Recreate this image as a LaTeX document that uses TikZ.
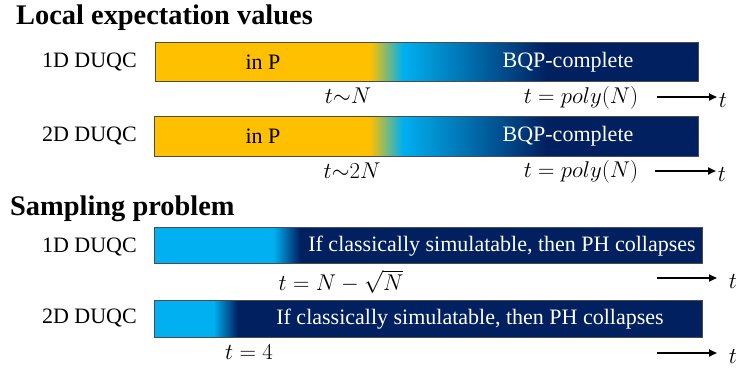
\documentclass[tikz,border=0pt]{standalone}
\usepackage{graphicx}
\usepackage{fontspec}
\setmainfont{Liberation Serif}
\usetikzlibrary{arrows.meta}

\definecolor{pyellow}{HTML}{FFC000}
\definecolor{pcyan}{HTML}{00B0F0}
\definecolor{pnavy}{HTML}{002060}

% bars: path box is mapped onto 25bp..75bp
\pgfdeclarehorizontalshading{localexp}{100bp}{color(0bp)=(pyellow); color(44.8bp)=(pyellow);
  color(47.8bp)=(pcyan); color(61.1bp)=(pnavy); color(100bp)=(pnavy)}
\pgfdeclarehorizontalshading{sampone}{100bp}{color(0bp)=(pcyan); color(35.9bp)=(pcyan);
  color(38.3bp)=(pnavy); color(100bp)=(pnavy)}
\pgfdeclarehorizontalshading{samptwo}{100bp}{color(0bp)=(pcyan); color(30.4bp)=(pcyan);
  color(32.6bp)=(pnavy); color(100bp)=(pnavy)}
% math labels, cm math only comes in fixed sizes
\newcommand{\tmath}[1]{\scalebox{1.1}{$#1$}}

\begin{document}
\begin{tikzpicture}[x=1pt,y=-1pt,
 heading/.style={anchor=base west,inner sep=0pt,font=\fontsize{28.4}{30}\selectfont\bfseries},
 rowname/.style={anchor=east,inner sep=0pt,font=\fontsize{22}{24}\selectfont},
 bar/.style={shade,draw=black!70,line width=.7pt,anchor=north west,inner sep=0pt,minimum height=#1},
 intext/.style={inner sep=0pt,font=\fontsize{22}{24}\selectfont},
 outtext/.style={inner sep=0pt,text=white,font=\fontsize{22}{24}\selectfont},
 timelabel/.style={inner sep=0pt,font=\fontsize{20.74}{24}\selectfont},
 timearrow/.style={-{Triangle[length=8pt,width=7pt]},line width=2pt}]
 \useasboundingbox (0,0) rectangle (739,367);
 % local expectation values
 \node[heading] (h1) at (16,24) {Local expectation values};
 \node[rowname] (l1) at (137,62) {1D DUQC};
 \node[rowname] (l2) at (137,136) {2D DUQC};
 \node[bar=39pt,minimum width=543pt,shading=localexp] (b1) at (155,42) {};
 \node[bar=40pt,minimum width=544pt,shading=localexp] (b2) at (154,116) {};
 \node[intext] (p1) at (263,62) {in P};
 \node[intext] (p2) at (263,136) {in P};
 \node[outtext] (q1) at (568,62) {BQP-complete};
 \node[outtext] (q2) at (568,136) {BQP-complete};
 \node[timelabel] (m1) at (348,96) {\tmath{t{\sim}N}};
 \node[timelabel] (m2) at (352,171) {\tmath{t{\sim}2N}};
 \node[timelabel] (n1) at (581,98) {\tmath{t=poly(N)}};
 \node[timelabel] (n2) at (581,172) {\tmath{t=poly(N)}};
 % sampling problem
 \node[heading] (h2) at (10,215) {Sampling problem};
 \node[rowname] (l3) at (137,247) {1D DUQC};
 \node[rowname] (l4) at (137,318) {2D DUQC};
 \node[bar=36pt,minimum width=548pt,shading=sampone] (b3) at (154,227) {};
 \node[bar=37pt,minimum width=548pt,shading=samptwo] (b4) at (154,300) {};
 \node[outtext] (c1) at (502,246) {If classically simulatable, then PH collapses};
 \node[outtext] (c2) at (470,319) {If classically simulatable, then PH collapses};
 \node[timelabel] (m3) at (341,282) {\tmath{t=N-\sqrt{N}}};
 \node[timelabel] (m4) at (249,352) {\tmath{t=4}};
 % time axes
 \node[timelabel] (t1) at (723,100) {\tmath{t}};
 \node[timelabel] (t2) at (722,174) {\tmath{t}};
 \node[timelabel] (t3) at (733,281) {\tmath{t}};
 \node[timelabel] (t4) at (733,356) {\tmath{t}};
 \coordinate (s1) at (657,97);  \coordinate (e1) at (717,97);
 \coordinate (s2) at (655,171); \coordinate (e2) at (716,171);
 \coordinate (s3) at (657,278); \coordinate (e3) at (717,278);
 \coordinate (s4) at (657,353); \coordinate (e4) at (717,353);
 \draw[timearrow] (s1)--(e1);
 \draw[timearrow] (s2)--(e2);
 \draw[timearrow] (s3)--(e3);
 \draw[timearrow] (s4)--(e4);
\end{tikzpicture}
\end{document}
